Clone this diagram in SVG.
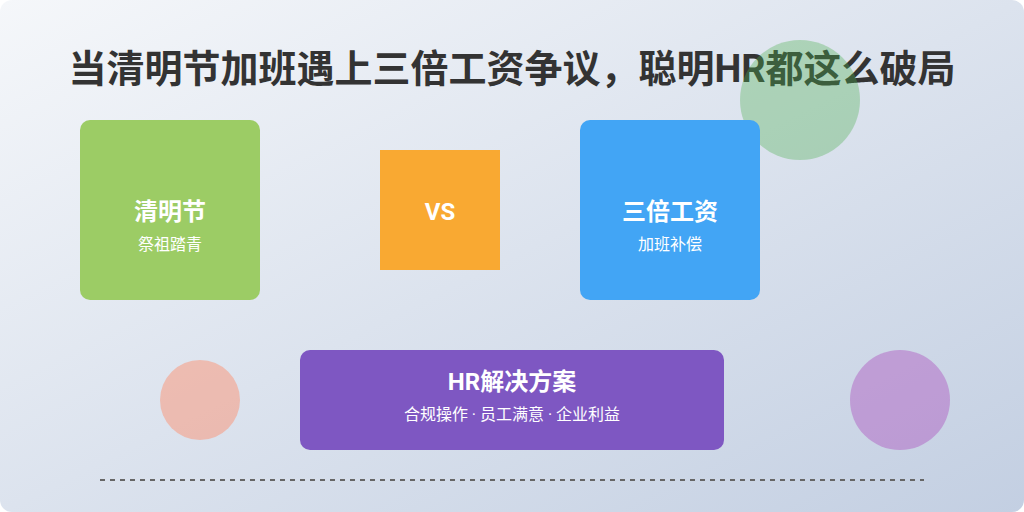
<svg xmlns="http://www.w3.org/2000/svg" width="1024" height="512" viewBox="0 0 1024 512">
<defs>
<linearGradient id="bg" x1="0" y1="0" x2="1" y2="1">
<stop offset="0" stop-color="#f5f7fa"/>
<stop offset="1" stop-color="#c3cfe2"/>
</linearGradient>
<style>
text{font-family:Roboto,"Noto Sans CJK SC",sans-serif;text-anchor:middle;fill:#fff}
.title{font-size:38px;font-weight:bold;fill:#333}
.h{font-size:24px;font-weight:bold}
.s{font-size:16px}
</style>
</defs>
<rect x="0" y="0" width="1024" height="512" fill="#ffffff"/>
<rect x="0" y="0" width="1024" height="512" rx="12" fill="url(#bg)"/>
<text class="title" x="512" y="82">当清明节加班遇上三倍工资争议，聪明HR都这么破局</text>
<circle cx="800" cy="100" r="60" fill="#4caf50" opacity="0.35"/>
<circle cx="200" cy="400" r="40" fill="#ff8a65" opacity="0.45"/>
<circle cx="900" cy="400" r="50" fill="#ab47bc" opacity="0.4"/>
<g id="qingming">
<rect x="80" y="120" width="180" height="180" rx="10" fill="#9ccc65"/>
<text class="h" x="170" y="220">清明节</text>
<text class="s" x="170" y="250">祭祖踏青</text>
</g>
<g id="vs">
<rect x="380" y="150" width="120" height="120" fill="#f9a932"/>
<text class="h" x="440" y="220">VS</text>
</g>
<g id="sanbei">
<rect x="580" y="120" width="180" height="180" rx="10" fill="#42a5f5"/>
<text class="h" x="670" y="220">三倍工资</text>
<text class="s" x="670" y="250">加班补偿</text>
</g>
<g id="hr">
<rect x="300" y="350" width="424" height="100" rx="10" fill="#7e57c2"/>
<text class="h" x="512" y="390">HR解决方案</text>
<text class="s" x="512" y="420">合规操作 · 员工满意 · 企业利益</text>
</g>
<g id="connectors">
<line x1="100" y1="480" x2="924" y2="480" stroke="#666" stroke-width="2" stroke-dasharray="5,5"/>
</g>
</svg>
